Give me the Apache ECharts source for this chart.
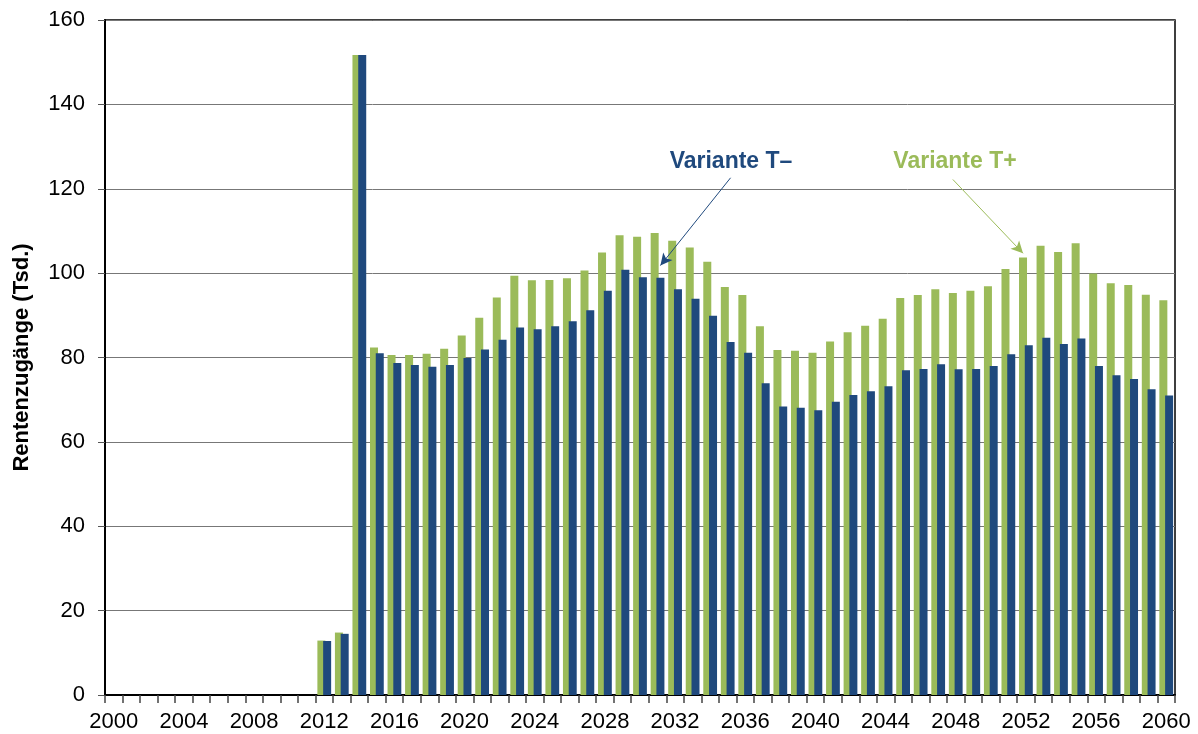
<!DOCTYPE html>
<html>
<head>
    <meta charset="utf-8">
    <title>Rentenzugänge</title>
    <script src="https://cdn.jsdelivr.net/npm/echarts@6/dist/echarts.min.js"></script>
    <style>
        html, body { margin: 0; padding: 0; background: #fff; }
        #main { width: 1198px; height: 734px; }
    </style>
</head>
<body>
<div id="main"></div>
<script type="text/javascript">
    // Jahre (Kategorien)
    var years = ['2000','2001','2002','2003','2004','2005','2006','2007','2008','2009',
        '2010','2011','2012','2013','2014','2015','2016','2017','2018','2019',
        '2020','2021','2022','2023','2024','2025','2026','2027','2028','2029',
        '2030','2031','2032','2033','2034','2035','2036','2037','2038','2039',
        '2040','2041','2042','2043','2044','2045','2046','2047','2048','2049',
        '2050','2051','2052','2053','2054','2055','2056','2057','2058','2059','2060'];

    // Variante T+ (grün)
    var variantePlus = [null,null,null,null,null,null,null,null,null,null,null,null,
        12.9, 14.8, 151.7, 82.4, 80.6, 80.6, 80.9, 82.1,
        85.2, 89.4, 94.2, 99.4, 98.3, 98.4, 98.8, 100.6, 104.9, 109.0,
        108.6, 109.5, 107.7, 106.1, 102.7, 96.7, 94.8, 87.4, 81.8, 81.6,
        81.1, 83.8, 86.0, 87.5, 89.2, 94.1, 94.8, 96.2, 95.3, 95.8,
        96.9, 101.0, 103.7, 106.5, 105.0, 107.1, 99.9, 97.6, 97.2, 94.9, 93.6];

    // Variante T- (blau)
    var varianteMinus = [null,null,null,null,null,null,null,null,null,null,null,null,
        12.8, 14.5, 151.7, 81.0, 78.7, 78.2, 77.8, 78.2,
        79.9, 81.9, 84.2, 87.1, 86.7, 87.4, 88.6, 91.2, 95.8, 100.8,
        99.0, 98.9, 96.2, 93.9, 89.9, 83.7, 81.1, 73.9, 68.4, 68.1,
        67.5, 69.5, 71.1, 72.0, 73.2, 77.0, 77.3, 78.4, 77.2, 77.3,
        78.0, 80.8, 82.9, 84.7, 83.2, 84.5, 78.0, 75.8, 74.9, 72.5, 71.0];

    var font = '"Liberation Sans", Arial, sans-serif';
    var green = '#9BBB59';
    var blue = '#1F497D';

    var myChart = echarts.init(document.getElementById('main'));
    var option = {
        animation: false,
        grid: {
            left: 105, right: 23, top: 20, bottom: 39,
            show: true, borderColor: '#000', borderWidth: 1.5
        },
        xAxis: {
            type: 'category',
            data: years,
            axisLine: { lineStyle: { color: '#000', width: 2 } },
            axisTick: { show: true, interval: 0, length: 8, lineStyle: { color: '#444', width: 1.5 } },
            axisLabel: { interval: 3, fontSize: 22, color: '#000', fontFamily: font, margin: 16 },
            splitLine: { show: false }
        },
        yAxis: {
            type: 'value',
            min: 0, max: 160, interval: 20,
            name: 'Rentenzugänge (Tsd.)',
            nameLocation: 'middle',
            nameGap: 72,
            nameTextStyle: { fontSize: 22, fontWeight: 'bold', color: '#000', fontFamily: font },
            axisLine: { show: true, lineStyle: { color: '#000', width: 2 } },
            axisTick: { show: true, length: 7, lineStyle: { color: '#555' } },
            axisLabel: { fontSize: 22, color: '#000', fontFamily: font, margin: 20 },
            splitLine: { lineStyle: { color: '#777', width: 1 } }
        },
        series: [
            {
                name: 'Variante T+',
                type: 'bar',
                data: variantePlus,
                barWidth: 8,
                barGap: '-28%',
                itemStyle: { color: green },
                markLine: {
                    silent: true,
                    symbol: ['none', 'arrow'],
                    symbolSize: [9, 12],
                    label: { show: false },
                    lineStyle: { color: green, width: 1, type: 'solid' },
                    data: [[{ coord: ['2048', 122.2] }, { coord: ['2052', 104.7] }]]
                }
            },
            {
                name: 'Variante T-',
                type: 'bar',
                data: varianteMinus,
                barWidth: 8,
                itemStyle: { color: blue },
                markLine: {
                    silent: true,
                    symbol: ['none', 'arrow'],
                    symbolSize: [9, 12],
                    label: { show: false },
                    lineStyle: { color: blue, width: 1, type: 'solid' },
                    data: [[{ coord: ['2035', 122.6] }, { coord: ['2031', 101.8] }]]
                }
            }
        ],
        graphic: [
            {
                type: 'text', x: 731, y: 162,
                style: {
                    text: 'Variante T–', fill: blue,
                    font: 'bold 23px ' + font,
                    align: 'center', verticalAlign: 'middle',
                    textAlign: 'center', textVerticalAlign: 'middle'
                }
            },
            {
                type: 'text', x: 955, y: 162,
                style: {
                    text: 'Variante T+', fill: green,
                    font: 'bold 23px ' + font,
                    align: 'center', verticalAlign: 'middle',
                    textAlign: 'center', textVerticalAlign: 'middle'
                }
            }
        ]
    };
    myChart.setOption(option);
</script>
</body>
</html>
